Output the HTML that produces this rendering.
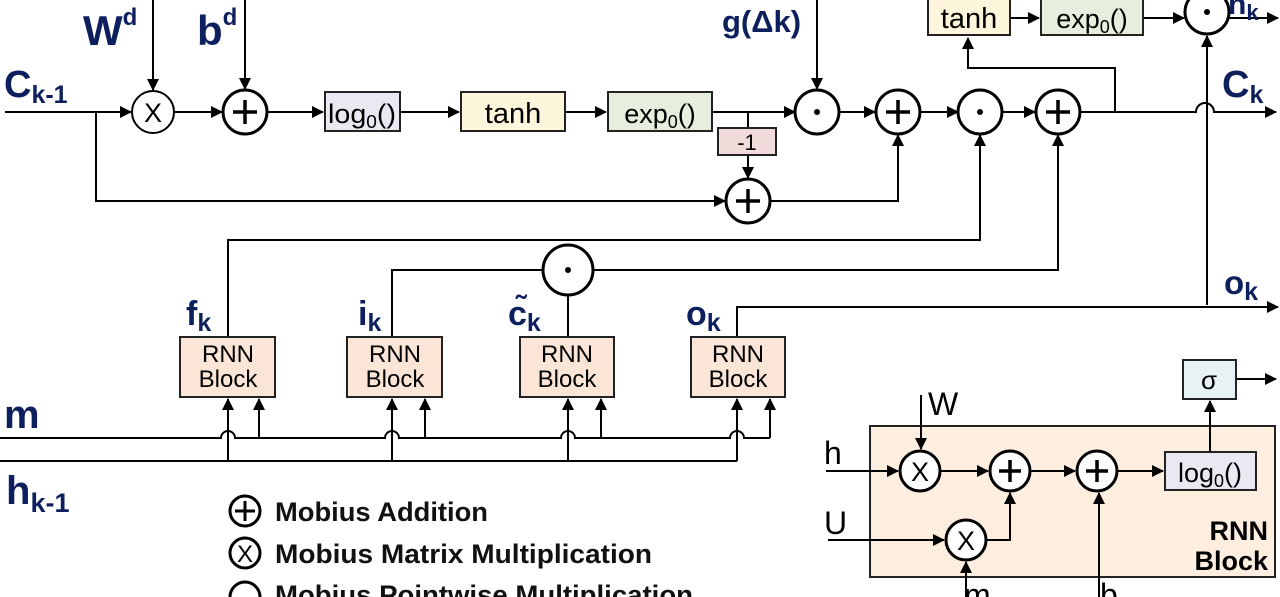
<!DOCTYPE html>
<html><head><meta charset="utf-8"><style>
html,body{margin:0;padding:0;background:#fff;}
svg{display:block;font-family:"Liberation Sans",sans-serif;}
.l{fill:none;stroke:#000;stroke-width:2;}
.c{fill:#fff;stroke:#000;stroke-width:3;}
.ct{fill:#fff;stroke:#000;stroke-width:2;}
.lab{fill:#0d1f5c;font-weight:bold;}
.bx{stroke:#222;stroke-width:2;}
</style></head><body>
<svg width="1280" height="597" viewBox="0 0 1280 597">
<defs><marker id="a" markerWidth="12" markerHeight="12" refX="11" refY="6" orient="auto" markerUnits="userSpaceOnUse"><path d="M0,0 L12,6 L0,12 z" fill="#000"/></marker></defs>

<path class="l" d="M5,112 H131" marker-end="url(#a)"/>
<path class="l" d="M173,112 H222" marker-end="url(#a)"/>
<path class="l" d="M266,112 H323" marker-end="url(#a)"/>
<path class="l" d="M401,112 H459" marker-end="url(#a)"/>
<path class="l" d="M566,112 H606" marker-end="url(#a)"/>
<path class="l" d="M712,112 H795" marker-end="url(#a)"/>
<path class="l" d="M838,112 H875" marker-end="url(#a)"/>
<path class="l" d="M920,112 H958" marker-end="url(#a)"/>
<path class="l" d="M1002,112 H1035" marker-end="url(#a)"/>
<path class="l" d="M1080,112 H1196 A8,8 0 0 1 1214,112 H1276" marker-end="url(#a)"/>
<path class="l" d="M153,0 V90" marker-end="url(#a)"/>
<path class="l" d="M245,0 V89" marker-end="url(#a)"/>
<path class="l" d="M817,0 V89" marker-end="url(#a)"/>
<path class="l" d="M96,112 V201 H725" marker-end="url(#a)"/>
<path class="l" d="M748,112 V128"/>
<path class="l" d="M748,155 V178" marker-end="url(#a)"/>
<path class="l" d="M770,201 H898 V135" marker-end="url(#a)"/>
<path class="l" d="M1115,112 V68 H968 V38" marker-end="url(#a)"/>
<path class="l" d="M1010,18 H1039" marker-end="url(#a)"/>
<path class="l" d="M1143,18 H1184" marker-end="url(#a)"/>
<path class="l" d="M1229,18 H1278" marker-end="url(#a)"/>
<path class="l" d="M1207,305 V36" marker-end="url(#a)"/>
<path class="l" d="M737,337 V307 H1278" marker-end="url(#a)"/>
<path class="l" d="M228,337 V240 H980 V135" marker-end="url(#a)"/>
<path class="l" d="M392,337 V270 H543"/>
<path class="l" d="M593,270 H1058 V135" marker-end="url(#a)"/>
<path class="l" d="M568,337 V295"/>

<path class="l" d="M0,438 H221 A7,7 0 0 1 235,438 H385 A7,7 0 0 1 399,438 H561 A7,7 0 0 1 575,438 H730 A7,7 0 0 1 744,438 H770"/>
<path class="l" d="M0,461 H737"/>
<g class="l">
<path d="M228,461 V399" marker-end="url(#a)"/><path d="M259,438 V399" marker-end="url(#a)"/>
<path d="M392,461 V399" marker-end="url(#a)"/><path d="M425,438 V399" marker-end="url(#a)"/>
<path d="M568,461 V399" marker-end="url(#a)"/><path d="M601,438 V399" marker-end="url(#a)"/>
<path d="M737,461 V399" marker-end="url(#a)"/><path d="M770,438 V399" marker-end="url(#a)"/>
</g>

<rect class="bx" x="325" y="92" width="75" height="39" fill="#ebe8f2"/>
<text x="362" y="123" font-size="27" text-anchor="middle" textLength="68" lengthAdjust="spacingAndGlyphs">log<tspan font-size="18" dy="5">0</tspan><tspan dy="-5">()</tspan></text>
<rect class="bx" x="461" y="92" width="104" height="39" fill="#fdf5dc"/>
<text x="513" y="123" font-size="29" text-anchor="middle">tanh</text>
<rect class="bx" x="608" y="92" width="104" height="39" fill="#e6efdd"/>
<text x="660" y="123" font-size="27" text-anchor="middle">exp<tspan font-size="18" dy="5">0</tspan><tspan dy="-5">()</tspan></text>
<rect class="bx" x="718" y="128" width="58" height="27" fill="#f2dcdb"/>
<text x="747" y="150" font-size="22" text-anchor="middle">-1</text>
<rect class="bx" x="928" y="-2" width="82" height="37" fill="#fdf5dc"/>
<text x="969" y="28" font-size="29" text-anchor="middle">tanh</text>
<rect class="bx" x="1041" y="-2" width="102" height="37" fill="#e6efdd"/>
<text x="1092" y="28" font-size="27" text-anchor="middle">exp<tspan font-size="18" dy="5">0</tspan><tspan dy="-5">()</tspan></text>

<g font-size="24" text-anchor="middle">
<rect class="bx" x="180" y="337" width="95" height="60" fill="#fbe5d6"/><text x="228" y="362">RNN</text><text x="228" y="387">Block</text>
<rect class="bx" x="347" y="337" width="95" height="60" fill="#fbe5d6"/><text x="395" y="362">RNN</text><text x="395" y="387">Block</text>
<rect class="bx" x="520" y="337" width="94" height="60" fill="#fbe5d6"/><text x="567" y="362">RNN</text><text x="567" y="387">Block</text>
<rect class="bx" x="691" y="337" width="94" height="60" fill="#fbe5d6"/><text x="738" y="362">RNN</text><text x="738" y="387">Block</text>
</g>

<circle class="ct" cx="153" cy="112" r="21"/><text x="153" y="122" font-size="27" text-anchor="middle">X</text>
<circle class="c" cx="245" cy="112" r="22"/><path d="M233,112 H257 M245,100 V124" stroke="#000" stroke-width="3.5"/>
<g>
<circle class="c" cx="817" cy="112" r="22"/><circle cx="817" cy="112" r="3" fill="#000"/>
<circle class="c" cx="898" cy="112" r="22"/><path d="M886,112 H910 M898,100 V124" stroke="#000" stroke-width="3.5"/>
<circle class="c" cx="980" cy="112" r="22"/><circle cx="980" cy="112" r="3" fill="#000"/>
<circle class="c" cx="1058" cy="112" r="22"/><path d="M1046,112 H1070 M1058,100 V124" stroke="#000" stroke-width="3.5"/>
<circle class="c" cx="748" cy="201" r="22"/><path d="M736,201 H760 M748,189 V213" stroke="#000" stroke-width="3.5"/>
<circle class="c" cx="1207" cy="12" r="22"/><circle cx="1207" cy="12" r="3" fill="#000"/>
<circle class="c" cx="568" cy="270" r="25"/><circle cx="568" cy="270" r="3" fill="#000"/>
</g>

<g class="lab">
<text x="83" y="45" font-size="42">W<tspan font-size="24" dy="-20">d</tspan></text>
<text x="197" y="45" font-size="42">b<tspan font-size="24" dy="-20">d</tspan></text>
<text x="722" y="32" font-size="31">g(Δk)</text>
<text x="4" y="97" font-size="38">C<tspan font-size="25" dy="6">k-1</tspan></text>
<text x="1222" y="97" font-size="38">C<tspan font-size="25" dy="6">k</tspan></text>
<text x="1228" y="14" font-size="30">h<tspan font-size="22" dy="6">k</tspan></text>
<text x="1224" y="294" font-size="33">o<tspan font-size="25" dy="6">k</tspan></text>
<text x="186" y="325" font-size="34">f<tspan font-size="25" dy="6">k</tspan></text>
<text x="358" y="325" font-size="34">i<tspan font-size="25" dy="6">k</tspan></text>
<text x="508" y="325" font-size="34">c̃<tspan font-size="25" dy="6">k</tspan></text>
<text x="686" y="325" font-size="34">o<tspan font-size="25" dy="6">k</tspan></text>
<text x="4" y="428" font-size="40">m</text>
<text x="6" y="504" font-size="40">h<tspan font-size="27" dy="8">k-1</tspan></text>
</g>

<circle class="c" cx="245" cy="511" r="15"/><path d="M235,511 H255 M245,501 V521" stroke="#000" stroke-width="3"/>
<circle class="c" cx="245" cy="553" r="15"/><text x="245" y="562" font-size="24" text-anchor="middle">X</text>
<circle class="c" cx="245" cy="597" r="15"/>
<g font-size="27" font-weight="bold" fill="#111">
<text x="275" y="521" textLength="213" lengthAdjust="spacingAndGlyphs">Mobius Addition</text>
<text x="275" y="563" textLength="377" lengthAdjust="spacingAndGlyphs">Mobius Matrix Multiplication</text>
<text x="275" y="604" textLength="418" lengthAdjust="spacingAndGlyphs">Mobius Pointwise Multiplication</text>
</g>

<rect x="870" y="426" width="405" height="151" fill="#fdeee0" stroke="#222" stroke-width="2"/>
<text x="1268" y="540" font-size="27" font-weight="bold" text-anchor="end">RNN</text>
<text x="1268" y="570" font-size="27" font-weight="bold" text-anchor="end">Block</text>
<text x="824" y="464" font-size="32">h</text>
<text x="824" y="534" font-size="32">U</text>
<text x="928" y="415" font-size="32">W</text>
<text x="964" y="606" font-size="32">m</text>
<text x="1100" y="606" font-size="32">b</text>
<path class="l" d="M826,471 H898" marker-end="url(#a)"/>
<path class="l" d="M921,395 V449" marker-end="url(#a)"/>
<path class="l" d="M941,471 H988" marker-end="url(#a)"/>
<path class="l" d="M1031,471 H1075" marker-end="url(#a)"/>
<path class="l" d="M1118,471 H1163" marker-end="url(#a)"/>
<path class="l" d="M828,540 H944" marker-end="url(#a)"/>
<path class="l" d="M987,540 H1010 V493" marker-end="url(#a)"/>
<path class="l" d="M966,597 V562" marker-end="url(#a)"/>
<path class="l" d="M1099,597 V493" marker-end="url(#a)"/>
<path class="l" d="M1210,452 V401" marker-end="url(#a)"/>
<path class="l" d="M1237,379 H1276" marker-end="url(#a)"/>
<circle class="c" cx="920" cy="471" r="20"/><text x="920" y="481" font-size="27" text-anchor="middle">X</text>
<circle class="c" cx="1010" cy="471" r="20"/><path d="M999,471 H1021 M1010,460 V482" stroke="#000" stroke-width="3.5"/>
<circle class="c" cx="1097" cy="471" r="20"/><path d="M1086,471 H1108 M1097,460 V482" stroke="#000" stroke-width="3.5"/>
<circle class="c" cx="966" cy="540" r="20"/><text x="966" y="550" font-size="27" text-anchor="middle">X</text>
<rect class="bx" x="1165" y="452" width="91" height="38" fill="#ebe8f2"/>
<text x="1210" y="482" font-size="27" text-anchor="middle">log<tspan font-size="18" dy="5">0</tspan><tspan dy="-5">()</tspan></text>
<rect class="bx" x="1183" y="360" width="53" height="39" fill="#e6f2f4"/>
<text x="1209" y="389" font-size="26" text-anchor="middle">σ</text>
</svg>
</body></html>
